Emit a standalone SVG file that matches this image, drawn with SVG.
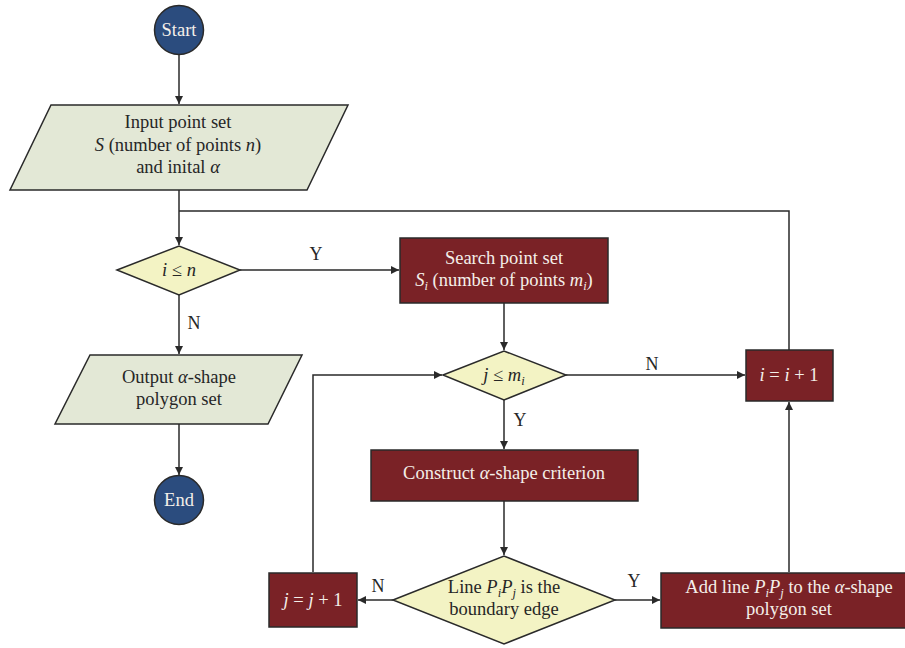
<svg xmlns="http://www.w3.org/2000/svg" width="905" height="648" viewBox="0 0 905 648">
  <style>
    text { font-family: "Liberation Serif", "Times New Roman", serif; font-size: 18.5px; text-anchor: middle; }
    .dark { fill: #262626; }
    .light { fill: #f4efe9; }
    .term { fill: #2b4c7e; stroke: #2a2a2a; stroke-width: 1.5; }
    .io { fill: #e3e8d6; stroke: #2a2a2a; stroke-width: 1.5; }
    .dec { fill: #f3f3c4; stroke: #2a2a2a; stroke-width: 1.5; }
    .proc { fill: #7a2226; stroke: #2a2a2a; stroke-width: 1.5; }
    .edge { fill: none; stroke: #2a2a2a; stroke-width: 1.5; }
    .lbl { fill: #262626; font-size: 18px; }
    .sub { font-size: 12.5px; }
  </style>
  <defs>
    <marker id="arrow" viewBox="0 0 10 10" refX="10" refY="5" markerWidth="8" markerHeight="8" markerUnits="userSpaceOnUse" orient="auto">
      <path d="M0,0 L10,5 L0,10 z" fill="#2a2a2a"/>
    </marker>
  </defs>

  <!-- connectors -->
  <g id="connectors">
    <line class="edge" x1="179" y1="55" x2="179" y2="104" marker-end="url(#arrow)"/>
    <line class="edge" x1="179" y1="190" x2="179" y2="245" marker-end="url(#arrow)"/>
    <line class="edge" x1="240" y1="270" x2="399" y2="270" marker-end="url(#arrow)"/>
    <line class="edge" x1="179" y1="295" x2="179" y2="354" marker-end="url(#arrow)"/>
    <line class="edge" x1="179" y1="424" x2="179" y2="475" marker-end="url(#arrow)"/>
    <line class="edge" x1="504" y1="303" x2="504" y2="350" marker-end="url(#arrow)"/>
    <line class="edge" x1="504" y1="400" x2="504" y2="449" marker-end="url(#arrow)"/>
    <line class="edge" x1="504" y1="501" x2="504" y2="555" marker-end="url(#arrow)"/>
    <line class="edge" x1="566" y1="375" x2="745" y2="375" marker-end="url(#arrow)"/>
    <line class="edge" x1="393" y1="600" x2="358" y2="600" marker-end="url(#arrow)"/>
    <line class="edge" x1="615" y1="600" x2="660" y2="600" marker-end="url(#arrow)"/>
    <polyline class="edge" points="313,572 313,375 442,375" marker-end="url(#arrow)"/>
    <line class="edge" x1="789" y1="572" x2="789" y2="402" marker-end="url(#arrow)"/>
    <polyline class="edge" points="789,350 789,211 179,211"/>
    <text class="lbl" x="316" y="260">Y</text>
    <text class="lbl" x="194" y="329">N</text>
    <text class="lbl" x="520" y="426">Y</text>
    <text class="lbl" x="652" y="370">N</text>
    <text class="lbl" x="378" y="592">N</text>
    <text class="lbl" x="634" y="587">Y</text>
  </g>

  <g id="start">
    <circle class="term" cx="179" cy="30" r="24.5"/>
    <text class="light" x="179" y="36">Start</text>
  </g>

  <g id="input">
    <polygon class="io" points="51,105 348,105 307,190 10,190"/>
    <text class="dark" x="178" y="128">Input point set</text>
    <text class="dark" x="178" y="151"><tspan font-style="italic">S</tspan> (number of points <tspan font-style="italic">n</tspan>)</text>
    <text class="dark" x="178" y="173">and inital <tspan font-style="italic">α</tspan></text>
  </g>

  <g id="cond-i">
    <polygon class="dec" points="117,270 179,246 240,270 179,295"/>
    <text class="dark" x="179" y="276"><tspan font-style="italic">i</tspan> ≤ <tspan font-style="italic">n</tspan></text>
  </g>

  <g id="search">
    <rect class="proc" x="400" y="238" width="208" height="65"/>
    <text class="light" x="504" y="264">Search point set</text>
    <text class="light" x="504" y="286"><tspan font-style="italic">S</tspan><tspan class="sub" font-style="italic" dy="4">i</tspan><tspan dy="-4"> (number of points </tspan><tspan font-style="italic">m</tspan><tspan class="sub" font-style="italic" dy="4">i</tspan><tspan dy="-4">)</tspan></text>
  </g>

  <g id="output">
    <polygon class="io" points="90,355 302,355 268,424 55,424"/>
    <text class="dark" x="179" y="383">Output <tspan font-style="italic">α</tspan>-shape</text>
    <text class="dark" x="179" y="405">polygon set</text>
  </g>

  <g id="end">
    <circle class="term" cx="179" cy="500" r="24.5"/>
    <text class="light" x="179" y="506">End</text>
  </g>

  <g id="cond-j">
    <polygon class="dec" points="443,375 504,351 566,375 504,400"/>
    <text class="dark" x="504" y="381"><tspan font-style="italic">j</tspan> ≤ <tspan font-style="italic">m</tspan><tspan class="sub" font-style="italic" dy="4">i</tspan></text>
  </g>

  <g id="construct">
    <rect class="proc" x="371" y="450" width="267" height="51"/>
    <text class="light" x="504" y="479">Construct <tspan font-style="italic">α</tspan>-shape criterion</text>
  </g>

  <g id="cond-edge">
    <polygon class="dec" points="393,600 504,556 615,600 504,644"/>
    <text class="dark" x="504" y="593">Line <tspan font-style="italic">P</tspan><tspan class="sub" font-style="italic" dy="4">i</tspan><tspan font-style="italic" dy="-4">P</tspan><tspan class="sub" font-style="italic" dy="4">j</tspan><tspan dy="-4"> is the</tspan></text>
    <text class="dark" x="504" y="615">boundary edge</text>
  </g>

  <g id="inc-i">
    <rect class="proc" x="746" y="350" width="87" height="51"/>
    <text class="light" x="789" y="381"><tspan font-style="italic">i</tspan> = <tspan font-style="italic">i</tspan> + 1</text>
  </g>

  <g id="inc-j">
    <rect class="proc" x="269" y="573" width="88" height="54"/>
    <text class="light" x="313" y="606"><tspan font-style="italic">j</tspan> = <tspan font-style="italic">j</tspan> + 1</text>
  </g>

  <g id="add-line">
    <rect class="proc" x="661" y="573" width="256" height="55"/>
    <text class="light" x="789" y="593">Add line <tspan font-style="italic">P</tspan><tspan class="sub" font-style="italic" dy="4">i</tspan><tspan font-style="italic" dy="-4">P</tspan><tspan class="sub" font-style="italic" dy="4">j</tspan><tspan dy="-4"> to the </tspan><tspan font-style="italic">α</tspan>-shape</text>
    <text class="light" x="789" y="615">polygon set</text>
  </g>
</svg>
